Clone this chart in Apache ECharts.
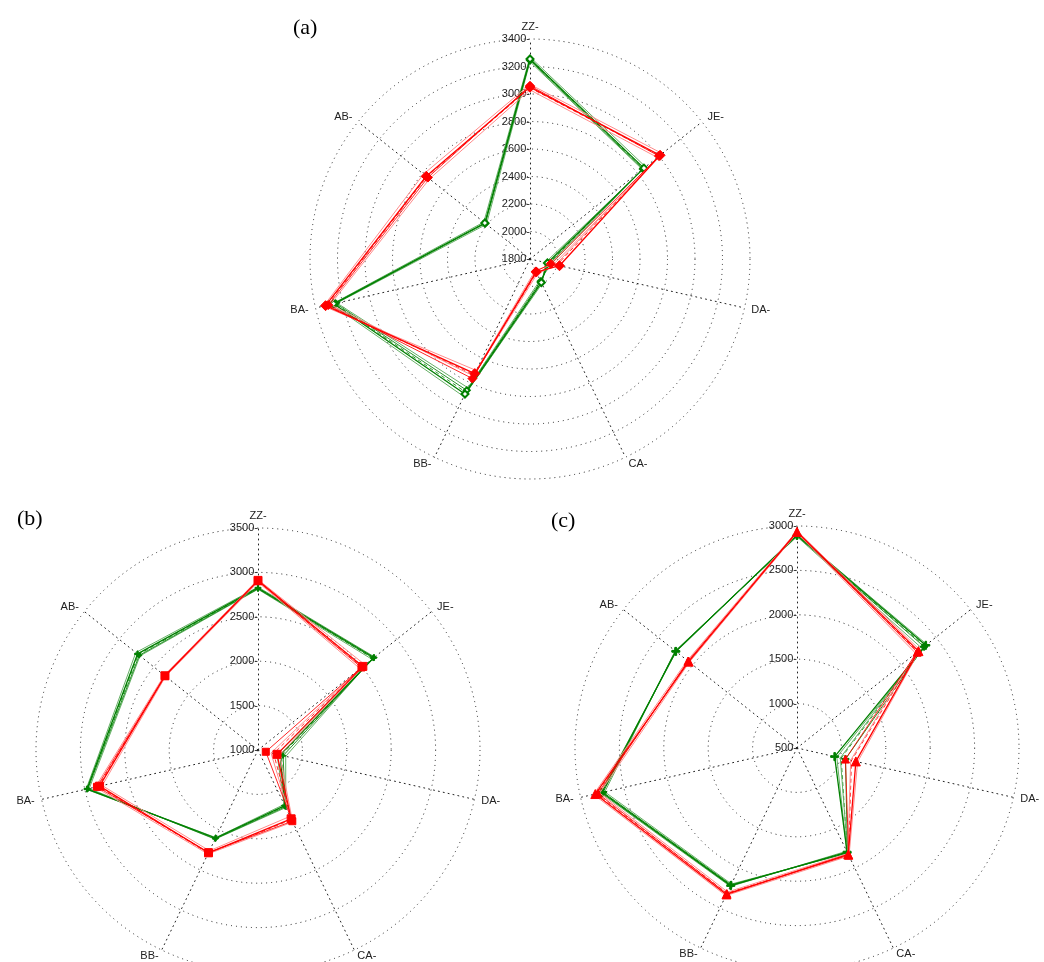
<!DOCTYPE html>
<html>
<head>
<meta charset="utf-8">
<script src="https://cdn.jsdelivr.net/npm/echarts@6/dist/echarts.min.js"></script>
<style>
html,body{margin:0;padding:0;background:#fff;}
#chart{width:1044px;height:962px;}
</style>
</head>
<body>
<div id="chart"></div>
<script>
// Axis names, clockwise from the top as in the reference
const axisNames = ['ZZ', 'JE', 'DA', 'CA', 'BB', 'BA', 'AB'];

// Tick labels on the ZZ axis of each panel
const ticksA = [1800, 2000, 2200, 2400, 2600, 2800, 3000, 3200, 3400];
const ticksB = [1000, 1500, 2000, 2500, 3000, 3500];
const ticksC = [500, 1000, 1500, 2000, 2500, 3000];

// Panel (a) values, order ZZ, JE, DA, CA, BB, BA, AB
const aRedMain   = [3050, 3010, 2020, 1905, 2725, 3325, 2765];
const aRedSecond = [3060, 3000, 1955, 1900, 2765, 3305, 2750];
const aRedLight1 = [3030, 2985, 1990, 1920, 2745, 3290, 2735];
const aRedLight2 = [3070, 3030, 1975, 1890, 2700, 3340, 2790];
const aRedDash   = [3045, 3005, 2000, 1910, 2735, 3315, 2760];
const aGreenMain   = [3255, 2860, 1930, 1990, 2890, 3265, 2220];
const aGreenSecond = [3245, 2850, 1945, 1980, 2860, 3250, 2215];
const aGreenLight1 = [3270, 2875, 1915, 2000, 2910, 3280, 2230];
const aGreenLight2 = [3235, 2845, 1960, 1970, 2840, 3240, 2205];
const aGreenDash   = [3250, 2855, 1940, 1985, 2875, 3258, 2218];

// Panel (b)
const bRedMain   = [2910, 2510, 1220, 1860, 2285, 2830, 2340];
const bRedSecond = [2900, 2490, 1090, 1890, 2280, 2860, 2340];
const bRedLight1 = [2890, 2470, 1150, 1830, 2260, 2800, 2330];
const bRedLight2 = [2920, 2540, 1250, 1900, 2300, 2880, 2350];
const bRedDash   = [2905, 2500, 1180, 1870, 2290, 2845, 2340];
const bGreenMain   = [2825, 2670, 1255, 1695, 2100, 2975, 2735];
const bGreenSecond = [2815, 2660, 1290, 1710, 2110, 2965, 2710];
const bGreenLight1 = [2835, 2680, 1220, 1680, 2095, 2985, 2760];
const bGreenLight2 = [2810, 2640, 1320, 1720, 2115, 2950, 2700];
const bGreenDash   = [2820, 2655, 1270, 1700, 2105, 2970, 2725];

// Panel (c)
const cRedMain   = [2935, 2250, 1180, 1830, 2330, 2830, 2060];
const cRedSecond = [2930, 2230, 1060, 1840, 2320, 2800, 2070];
const cRedLight1 = [2920, 2210, 1120, 1820, 2300, 2780, 2050];
const cRedLight2 = [2945, 2270, 1200, 1850, 2345, 2850, 2080];
const cRedDash   = [2925, 2240, 1130, 1835, 2315, 2815, 2065];
const cGreenMain   = [2895, 2355, 935, 1800, 2220, 2755, 2245];
const cGreenSecond = [2890, 2330, 1060, 1810, 2210, 2740, 2250];
const cGreenLight1 = [2900, 2370, 960, 1790, 2230, 2770, 2240];
const cGreenLight2 = [2880, 2300, 1000, 1815, 2200, 2720, 2255];
const cGreenDash   = [2888, 2340, 1010, 1805, 2215, 2745, 2248];

// ECharts lays radar indicators counter-clockwise; reorder so the picture reads clockwise
const ORDER = [0, 6, 5, 4, 3, 2, 1];
const toEc = arr => ORDER.map(i => arr[i]);

const FONT = '"Liberation Sans", Arial, sans-serif';
const dotted = {color: '#222', width: 1, type: [1, 4]};

const panels = [
  {ticks: ticksA, center: [530, 259], radius: 220, title: '(a)', tpos: [288, 12],
   red: [aRedMain, aRedSecond, aRedLight1, aRedLight2, aRedDash],
   green: [aGreenMain, aGreenSecond, aGreenLight1, aGreenLight2, aGreenDash],
   redSym: 'diamond', redSize: 10, greenSym: 'emptyDiamond', greenSize: 7},
  {ticks: ticksB, center: [258, 750], radius: 222, title: '(b)', tpos: [12, 503],
   red: [bRedMain, bRedSecond, bRedLight1, bRedLight2, bRedDash],
   green: [bGreenMain, bGreenSecond, bGreenLight1, bGreenLight2, bGreenDash],
   redSym: 'rect', redSize: 8, greenSym: 'path://M4,0h2v4h4v2h-4v4h-2v-4h-4v-2h4z', greenSize: 6},
  {ticks: ticksC, center: [797, 748], radius: 222, title: '(c)', tpos: [546, 505],
   red: [cRedMain, cRedSecond, cRedLight1, cRedLight2, cRedDash],
   green: [cGreenMain, cGreenSecond, cGreenLight1, cGreenLight2, cGreenDash],
   redSym: 'triangle', redSize: 9, greenSym: 'path://M4,0h2v4h4v2h-4v4h-2v-4h-4v-2h4z', greenSize: 8}
];

const radar = [], grid = [], xAxis = [], yAxis = [], series = [], title = [];

function lineItems(sets, main, light, sym, size) {
  const styles = [
    {color: main, width: 1.3, type: 'solid', sym: sym, size: size, op: 1},
    {color: main, width: 1, type: 'solid', sym: sym, size: size - 1, op: 0.85},
    {color: light, width: 1, type: 'solid', sym: 'none', size: 0, op: 1},
    {color: light, width: 1, type: 'solid', sym: 'none', size: 0, op: 1},
    {color: main, width: 1, type: [4, 3], sym: 'none', size: 0, op: 0.8}
  ];
  return sets.map((arr, k) => ({
    value: toEc(arr),
    symbol: styles[k].sym,
    symbolSize: styles[k].size,
    lineStyle: {color: styles[k].color, width: styles[k].width, type: styles[k].type, opacity: styles[k].op},
    itemStyle: {color: main, borderColor: main, borderWidth: 1}
  })).reverse();
}

panels.forEach((p, i) => {
  const min = p.ticks[0], max = p.ticks[p.ticks.length - 1];
  const interval = p.ticks[1] - p.ticks[0];
  radar.push({
    center: p.center,
    radius: p.radius,
    startAngle: 90,
    shape: 'circle',
    splitNumber: p.ticks.length - 1,
    indicator: toEc(axisNames).map(n => ({name: n, min: min, max: max})),
    axisName: {color: '#222', fontSize: 11, fontFamily: FONT, formatter: n => n + '-'},
    nameGap: 7,
    axisLine: {lineStyle: dotted},
    splitLine: {lineStyle: dotted},
    splitArea: {show: false},
    axisTick: {show: false},
    axisLabel: {show: false}
  });
  grid.push({left: p.center[0], top: p.center[1] - p.radius, width: 10, height: p.radius});
  xAxis.push({gridIndex: i, type: 'value', show: false});
  yAxis.push({
    gridIndex: i, type: 'value', min: min, max: max, interval: interval, position: 'left',
    axisLine: {show: false}, axisTick: {show: false}, splitLine: {show: false},
    axisLabel: {margin: 0, fontSize: 11, fontFamily: FONT, color: '#222', formatter: v => v + '-'}
  });
  series.push({
    type: 'radar', radarIndex: i, z: 2,
    data: lineItems(p.green, '#008000', '#66b066', p.greenSym, p.greenSize)
  });
  series.push({
    type: 'radar', radarIndex: i, z: 3,
    data: lineItems(p.red, '#ff0000', '#ff8c8c', p.redSym, p.redSize)
  });
  title.push({
    text: p.title, left: p.tpos[0], top: p.tpos[1],
    textStyle: {fontFamily: '"Liberation Serif", "Times New Roman", serif', fontSize: 22, fontWeight: 'normal', color: '#000'}
  });
});

const chart = echarts.init(document.getElementById('chart'), null, {renderer: 'canvas'});
chart.setOption({
  animation: false,
  backgroundColor: '#fff',
  title: title,
  radar: radar,
  grid: grid,
  xAxis: xAxis,
  yAxis: yAxis,
  series: series
});
</script>
</body>
</html>
